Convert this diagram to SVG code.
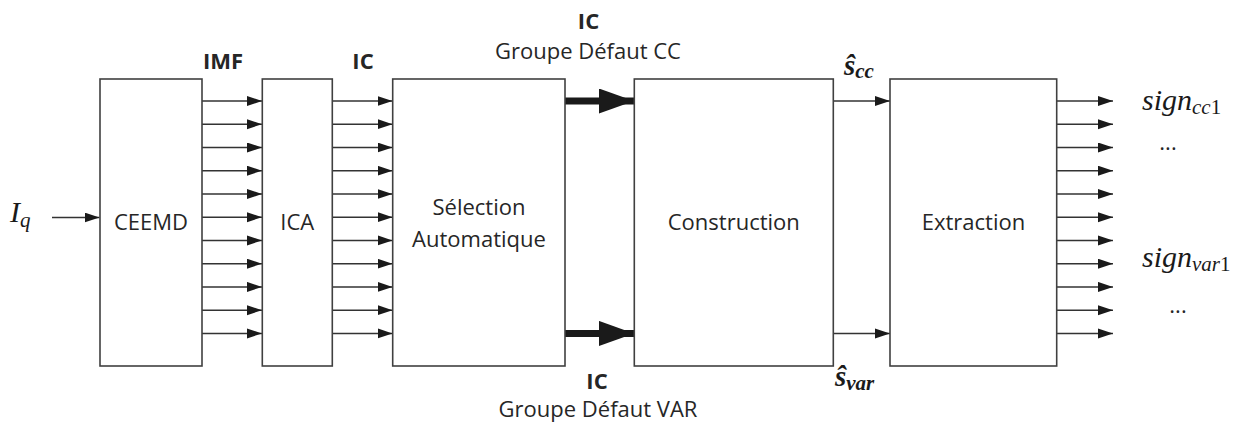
<svg xmlns="http://www.w3.org/2000/svg" width="1248" height="423" viewBox="0 0 1248 423">
<defs>
<marker id="ah" markerUnits="userSpaceOnUse" markerWidth="16" markerHeight="11" refX="15" refY="5" orient="auto" viewBox="0 0 16 11">
<path d="M0,0 L15,5 L0,10 z" fill="#1a1a1a"/>
</marker>
<marker id="ahb" markerUnits="userSpaceOnUse" markerWidth="36" markerHeight="26" refX="35" refY="12.5" orient="auto" viewBox="0 0 36 26">
<path d="M0,0 L35,12.5 L0,25 z" fill="#1a1a1a"/>
</marker>
<style>
.box{fill:#fff;stroke:#404040;stroke-width:1.6}
.lbl{font-family:"Open Sans","Noto Sans",sans-serif;font-size:22px;fill:#262626;text-anchor:middle}
.bold{font-weight:bold}
.ar{stroke:#333;stroke-width:1.5;fill:none;marker-end:url(#ah)}
.thick{stroke:#1a1a1a;stroke-width:7;fill:none;marker-end:url(#ahb)}
.math{font-family:"Liberation Serif","DejaVu Serif",serif;font-style:italic;fill:#1a1a1a}
</style>
</defs>
<rect width="1248" height="423" fill="#fff"/>

<g id="connectors">
<line class="ar" x1="52" y1="217.5" x2="99.5" y2="217.5"/>
<g id="imf-arrows">
<line class="ar" x1="202" y1="101" x2="262" y2="101"/>
<line class="ar" x1="202" y1="124.2" x2="262" y2="124.2"/>
<line class="ar" x1="202" y1="147.5" x2="262" y2="147.5"/>
<line class="ar" x1="202" y1="170.7" x2="262" y2="170.7"/>
<line class="ar" x1="202" y1="194" x2="262" y2="194"/>
<line class="ar" x1="202" y1="217.2" x2="262" y2="217.2"/>
<line class="ar" x1="202" y1="240.4" x2="262" y2="240.4"/>
<line class="ar" x1="202" y1="263.7" x2="262" y2="263.7"/>
<line class="ar" x1="202" y1="286.9" x2="262" y2="286.9"/>
<line class="ar" x1="202" y1="310.2" x2="262" y2="310.2"/>
<line class="ar" x1="202" y1="333.4" x2="262" y2="333.4"/>
</g>
<g id="ic-arrows">
<line class="ar" x1="332" y1="101" x2="392.5" y2="101"/>
<line class="ar" x1="332" y1="124.2" x2="392.5" y2="124.2"/>
<line class="ar" x1="332" y1="147.5" x2="392.5" y2="147.5"/>
<line class="ar" x1="332" y1="170.7" x2="392.5" y2="170.7"/>
<line class="ar" x1="332" y1="194" x2="392.5" y2="194"/>
<line class="ar" x1="332" y1="217.2" x2="392.5" y2="217.2"/>
<line class="ar" x1="332" y1="240.4" x2="392.5" y2="240.4"/>
<line class="ar" x1="332" y1="263.7" x2="392.5" y2="263.7"/>
<line class="ar" x1="332" y1="286.9" x2="392.5" y2="286.9"/>
<line class="ar" x1="332" y1="310.2" x2="392.5" y2="310.2"/>
<line class="ar" x1="332" y1="333.4" x2="392.5" y2="333.4"/>
</g>
<line class="thick" x1="565" y1="101" x2="634" y2="101"/>
<line class="thick" x1="565" y1="333.4" x2="634" y2="333.4"/>
<line class="ar" x1="833" y1="101" x2="890" y2="101"/>
<line class="ar" x1="833" y1="333.4" x2="890" y2="333.4"/>
<g id="out-arrows">
<line class="ar" x1="1057" y1="101" x2="1113" y2="101"/>
<line class="ar" x1="1057" y1="124.2" x2="1113" y2="124.2"/>
<line class="ar" x1="1057" y1="147.5" x2="1113" y2="147.5"/>
<line class="ar" x1="1057" y1="170.7" x2="1113" y2="170.7"/>
<line class="ar" x1="1057" y1="194" x2="1113" y2="194"/>
<line class="ar" x1="1057" y1="217.2" x2="1113" y2="217.2"/>
<line class="ar" x1="1057" y1="240.4" x2="1113" y2="240.4"/>
<line class="ar" x1="1057" y1="263.7" x2="1113" y2="263.7"/>
<line class="ar" x1="1057" y1="286.9" x2="1113" y2="286.9"/>
<line class="ar" x1="1057" y1="310.2" x2="1113" y2="310.2"/>
<line class="ar" x1="1057" y1="333.4" x2="1113" y2="333.4"/>
</g>
</g>

<g id="ceemd">
<rect class="box" x="100" y="79" width="102" height="287"/>
<text class="lbl" x="151" y="230">CEEMD</text>
</g>
<g id="ica">
<rect class="box" x="262.3" y="79" width="70" height="287"/>
<text class="lbl" x="297.3" y="230">ICA</text>
</g>
<g id="selection">
<rect class="box" x="392.7" y="79" width="172.3" height="287"/>
<text class="lbl" x="479" y="215">Sélection</text>
<text class="lbl" x="479" y="246.5">Automatique</text>
</g>
<g id="construction">
<rect class="box" x="634.3" y="79" width="199" height="287"/>
<text class="lbl" x="733.8" y="230">Construction</text>
</g>
<g id="extraction">
<rect class="box" x="890" y="79" width="166.7" height="287"/>
<text class="lbl" x="973.5" y="230">Extraction</text>
</g>

<g id="labels">
<text class="lbl bold" x="223" y="69">IMF</text>
<text class="lbl bold" x="363" y="69">IC</text>
<text class="lbl bold" x="588.5" y="29">IC</text>
<text class="lbl" x="588" y="59">Groupe Défaut CC</text>
<text class="lbl bold" x="597" y="389">IC</text>
<text class="lbl" x="598" y="417">Groupe Défaut VAR</text>
<text class="math" x="10" y="222" font-size="30">I<tspan font-size="21" dy="5">q</tspan></text>
<text class="math" x="844" y="75" font-size="29" font-weight="bold">ŝ<tspan font-size="21" dy="3">cc</tspan></text>
<text class="math" x="835" y="386" font-size="29" font-weight="bold">ŝ<tspan font-size="21" dy="4">var</tspan></text>
<text class="math" x="1142" y="110" font-size="30">sign<tspan font-size="21" dy="4">cc</tspan><tspan font-size="21" font-style="normal">1</tspan></text>
<text class="lbl" x="1168" y="150" font-size="22">...</text>
<text class="math" x="1142" y="267" font-size="30">sign<tspan font-size="21" dy="4">var</tspan><tspan font-size="21" font-style="normal">1</tspan></text>
<text class="lbl" x="1178" y="313" font-size="22">...</text>
</g>
</svg>
